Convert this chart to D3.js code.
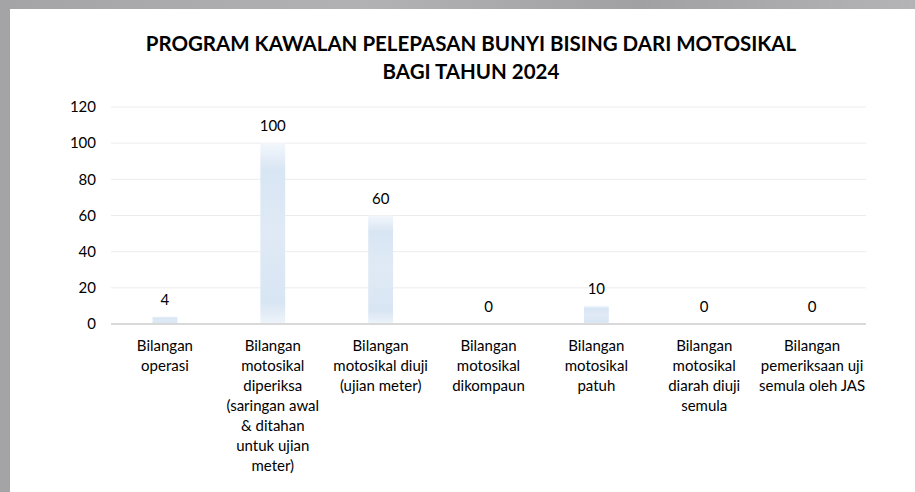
<!DOCTYPE html>
<html>
<head>
<meta charset="utf-8">
<script src="https://cdn.jsdelivr.net/npm/d3@7"></script>
<style>
  body { margin: 0; background: #a9a9ac; }
  svg { display: block; }
</style>
</head>
<body>
<div id="container"></div>
<script>
/* DATA */
const categories = [
  ["Bilangan", "operasi"],
  ["Bilangan", "motosikal", "diperiksa", "(saringan awal", "& ditahan", "untuk ujian", "meter)"],
  ["Bilangan", "motosikal diuji", "(ujian meter)"],
  ["Bilangan", "motosikal", "dikompaun"],
  ["Bilangan", "motosikal", "patuh"],
  ["Bilangan", "motosikal", "diarah diuji", "semula"],
  ["Bilangan", "pemeriksaan uji", "semula oleh JAS"]
];
const values = [4, 100, 60, 0, 10, 0, 0];
const yTicks = [0, 20, 40, 60, 80, 100, 120];
const titleLines = ["PROGRAM KAWALAN PELEPASAN BUNYI BISING DARI MOTOSIKAL", "BAGI TAHUN 2024"];

/* CONSTANTS */
const width = 915,
  height = 492,
  margin = { top: 107, bottom: 168, left: 111, right: 49 },
  font = "Lato, 'Open Sans', sans-serif";

const svg = d3.select("#container")
  .append("svg")
  .attr("width", width)
  .attr("height", height);

const defs = svg.append("defs");

// grey frame gradient on top
const frameGrad = defs.append("linearGradient")
  .attr("id", "frame")
  .attr("x1", 0).attr("x2", 1).attr("y1", 0).attr("y2", 0);
frameGrad.append("stop").attr("offset", "0%").attr("stop-color", "#a4a4a7");
frameGrad.append("stop").attr("offset", "40%").attr("stop-color", "#b2b2b4");
frameGrad.append("stop").attr("offset", "70%").attr("stop-color", "#a1a1a4");
frameGrad.append("stop").attr("offset", "100%").attr("stop-color", "#b4b4b6");

const barGrad = defs.append("linearGradient")
  .attr("id", "barFill")
  .attr("x1", 0).attr("x2", 0).attr("y1", 0).attr("y2", 1);
barGrad.append("stop").attr("offset", "0%").attr("stop-color", "#f3f7fc");
barGrad.append("stop").attr("offset", "15%").attr("stop-color", "#d8e5f3");
barGrad.append("stop").attr("offset", "50%").attr("stop-color", "#e0eaf6");
barGrad.append("stop").attr("offset", "88%").attr("stop-color", "#d8e5f3");
barGrad.append("stop").attr("offset", "100%").attr("stop-color", "#eef4fa");

svg.append("rect")
  .attr("width", width).attr("height", height)
  .attr("fill", "url(#frame)");

svg.append("rect")
  .attr("x", 10).attr("y", 9)
  .attr("width", width - 10).attr("height", height - 9)
  .attr("fill", "#ffffff");

/* SCALES */
const xScale = d3.scaleBand()
  .domain(d3.range(categories.length))
  .range([margin.left, width - margin.right])
  .paddingInner(0.77)
  .paddingOuter(0.385);

const yScale = d3.scaleLinear()
  .domain([0, 120])
  .range([height - margin.bottom, margin.top]);

// full bands for label centres
const catScale = d3.scaleBand()
  .domain(d3.range(categories.length))
  .range([margin.left, width - margin.right]);

/* GRIDLINES */
svg.append("g")
  .selectAll("line")
  .data(yTicks.filter(d => d > 0))
  .join("line")
  .attr("x1", margin.left)
  .attr("x2", width - margin.right)
  .attr("y1", d => yScale(d))
  .attr("y2", d => yScale(d))
  .attr("stroke", "#ececec")
  .attr("stroke-width", 1);

/* Y AXIS */
const yAxis = d3.axisLeft(yScale)
  .tickValues(yTicks)
  .tickSize(0)
  .tickPadding(15);

svg.append("g")
  .attr("transform", `translate(${margin.left},0)`)
  .call(yAxis)
  .call(g => g.select(".domain").remove())
  .call(g => g.selectAll("text")
    .attr("font-family", font)
    .attr("font-size", 15)
    .attr("fill", "#000"));

/* BARS */
svg.append("g")
  .selectAll("rect")
  .data(values)
  .join("rect")
  .attr("x", (d, i) => xScale(i))
  .attr("width", xScale.bandwidth())
  .attr("y", d => yScale(d))
  .attr("height", d => yScale(0) - yScale(d))
  .attr("fill", "url(#barFill)");

/* X AXIS LINE */
svg.append("line")
  .attr("x1", margin.left)
  .attr("x2", width - margin.right)
  .attr("y1", yScale(0))
  .attr("y2", yScale(0))
  .attr("stroke", "#d9d9d9")
  .attr("stroke-width", 2);

/* VALUE LABELS */
svg.append("g")
  .selectAll("text")
  .data(values)
  .join("text")
  .attr("x", (d, i) => catScale(i) + catScale.bandwidth() / 2)
  .attr("y", d => yScale(d) - 12)
  .attr("text-anchor", "middle")
  .attr("font-family", font)
  .attr("font-size", 15)
  .attr("fill", "#000")
  .text(d => d);

/* CATEGORY LABELS */
const catText = svg.append("g")
  .selectAll("text")
  .data(categories)
  .join("text")
  .attr("text-anchor", "middle")
  .attr("font-family", font)
  .attr("font-size", 15)
  .attr("fill", "#000");

catText.selectAll("tspan")
  .data((d, i) => d.map(line => ({ line, i })))
  .join("tspan")
  .attr("x", d => catScale(d.i) + catScale.bandwidth() / 2)
  .attr("y", (d, j) => 351 + j * 20)
  .text(d => d.line);

/* TITLE */
svg.append("g")
  .selectAll("text")
  .data(titleLines)
  .join("text")
  .attr("x", 471)
  .attr("y", (d, i) => 51 + i * 28)
  .attr("text-anchor", "middle")
  .attr("font-family", font)
  .attr("font-weight", "bold")
  .attr("font-size", 20.5)
  .attr("fill", "#000")
  .text(d => d);
</script>
</body>
</html>
